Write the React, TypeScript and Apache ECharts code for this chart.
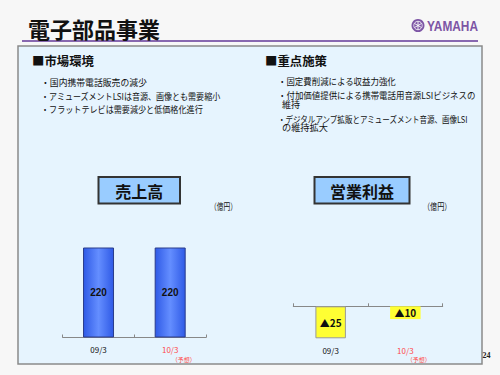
import React, { useEffect, useRef } from "react";
import * as echarts from "echarts";

// ---- data ----
const pageTitle = "電子部品事業";
const brandName = "YAMAHA";
const pageNumber = "24";
const marketHeading = "■市場環境";
const marketBullets = [
  "・国内携帯電話販売の減少",
  "・アミューズメントLSIは音源、画像とも需要縮小",
  "・フラットテレビは需要減少と低価格化進行",
];
const strategyHeading = "■重点施策";
const strategyLines = [
  "・固定費削減による収益力強化",
  "・付加価値提供による携帯電話用音源LSIビジネスの",
  "維持",
  "・デジタルアンプ拡販とアミューズメント音源、画像LSI",
  "の維持拡大",
];
const salesTitle = "売上高";
const profitTitle = "営業利益";
const unitLabel = "（億円）";
const categories = ["09/3", "10/3"];
const categoryNotes = ["", "（予想）"];
const salesValues = [220, 220];
const profitValues = [-25, -10];

const JP = "'Noto Sans CJK JP', sans-serif";

function measure(text: string, font: string): number {
  const c = document.createElement("canvas").getContext("2d");
  if (!c) return text.length * 9;
  c.font = font;
  return c.measureText(text).width;
}

function fitText(
  text: string,
  x: number,
  y: number,
  font: string,
  target: number | null,
  fill: string,
  z = 10
): any {
  const w = measure(text, font);
  const s = target ? target / w : 1;
  return {
    type: "text",
    x,
    y,
    scaleX: s,
    z,
    style: {
      text,
      font,
      fill,
      textAlign: "left",
      textVerticalAlign: "middle",
      align: "left",
      verticalAlign: "middle",
    },
  };
}

export default function App() {
  const ref = useRef<HTMLDivElement>(null);

  useEffect(() => {
    if (!ref.current) return;
    const chart = echarts.init(ref.current, undefined, { renderer: "svg" });

    const bulletFont = `9px ${JP}`;
    const leftTargets = [106, 180, 162];
    const rightTargets = [118, 198, null, 191, 46];
    const rightX = [278, 278, 282, 278, 282];
    const rightY = [81.7, 95.7, 104.5, 118.3, 127.5];
    const leftY = [82, 95.5, 108.5];

    const blueGrad = new echarts.graphic.LinearGradient(0, 0, 1, 0, [
      { offset: 0, color: "#2f5ae6" },
      { offset: 0.5, color: "#648eff" },
      { offset: 1, color: "#2f5ae6" },
    ]);

    const graphics: any[] = [
      {
        type: "rect",
        z: 0,
        shape: { x: 18, y: 46, width: 464, height: 318 },
        style: { fill: "#e6f4fe", stroke: "#8a8a8a", lineWidth: 1.5 },
      },
      {
        type: "line",
        z: 1,
        shape: { x1: 22, y1: 41, x2: 478, y2: 41 },
        style: { stroke: "#8868b0", lineWidth: 2 },
      },
      fitText(pageTitle, 28, 28, `bold 22px ${JP}`, 132, "#111"),
      {
        type: "circle",
        z: 10,
        shape: { cx: 418, cy: 25.5, r: 6.5 },
        style: { fill: "#7d55a5" },
      },
      {
        type: "circle",
        z: 11,
        shape: { cx: 418, cy: 25.5, r: 4.2 },
        style: { fill: "none", stroke: "#fff", lineWidth: 0.8 },
      },
      {
        type: "line",
        z: 11,
        shape: { x1: 418, y1: 21.5, x2: 418, y2: 29.5 },
        style: { stroke: "#fff", lineWidth: 0.9 },
      },
      {
        type: "line",
        z: 11,
        shape: { x1: 414.5, y1: 23.5, x2: 421.5, y2: 27.5 },
        style: { stroke: "#fff", lineWidth: 0.9 },
      },
      {
        type: "line",
        z: 11,
        shape: { x1: 414.5, y1: 27.5, x2: 421.5, y2: 23.5 },
        style: { stroke: "#fff", lineWidth: 0.9 },
      },
      fitText(brandName, 427, 26, `bold 14px 'Liberation Sans', Arial, sans-serif`, 51, "#7d55a5"),
      fitText(marketHeading, 32, 61, `bold 12px ${JP}`, 62, "#111"),
      fitText(strategyHeading, 265, 61, `bold 12px ${JP}`, 62, "#111"),
      {
        type: "rect",
        z: 10,
        shape: { x: 98.5, y: 177, width: 81.5, height: 26.5 },
        style: { fill: "#99ccff", stroke: "#333", lineWidth: 2 },
      },
      {
        type: "text",
        z: 11,
        x: 139.2,
        y: 190.5,
        style: {
          text: salesTitle,
          font: `bold 16px ${JP}`,
          fill: "#111",
          textAlign: "center",
          textVerticalAlign: "middle",
          align: "center",
          verticalAlign: "middle",
        },
      },
      {
        type: "rect",
        z: 10,
        shape: { x: 314.5, y: 177, width: 95, height: 26.5 },
        style: { fill: "#99ccff", stroke: "#333", lineWidth: 2 },
      },
      {
        type: "text",
        z: 11,
        x: 362,
        y: 190.5,
        style: {
          text: profitTitle,
          font: `bold 16px ${JP}`,
          fill: "#111",
          textAlign: "center",
          textVerticalAlign: "middle",
          align: "center",
          verticalAlign: "middle",
        },
      },
      fitText(unitLabel, 210, 206, `9px ${JP}`, 27, "#111"),
      fitText(unitLabel, 423, 206, `9px ${JP}`, 28.5, "#111"),
      fitText(pageNumber, 482.5, 355, `bold 8px 'Liberation Serif', serif`, null, "#222"),
    ];

    marketBullets.forEach((t, i) => {
      graphics.push(fitText(t, 41, leftY[i], bulletFont, leftTargets[i], "#111"));
    });
    strategyLines.forEach((t, i) => {
      graphics.push(fitText(t, rightX[i], rightY[i], bulletFont, rightTargets[i], "#111"));
    });

    const axisLabel = (margin: number) => ({
      margin,
      interval: 0,
      formatter: (v: string, i: number) =>
        categoryNotes[i] ? `{r|${v}}\n{n|${categoryNotes[i]}}` : `{k|${v}}`,
      rich: {
        k: { fontSize: 8, color: "#111", lineHeight: 10, fontFamily: JP, align: "center" },
        r: { fontSize: 8, color: "#ff4a4a", lineHeight: 10, fontFamily: JP, align: "center" },
        n: {
          fontSize: 6,
          color: "#ff4a4a",
          lineHeight: 9,
          fontFamily: JP,
          padding: [0, 0, 0, 27],
          align: "center",
        },
      },
    });

    const xAxisCommon = {
      type: "category" as const,
      data: categories,
      boundaryGap: true,
      axisLine: { show: true, onZero: true, lineStyle: { color: "#888", width: 1 } },
      axisTick: { show: true, inside: true, length: 3, lineStyle: { color: "#888" } },
      splitLine: { show: false },
    };

    chart.setOption({
      animation: false,
      backgroundColor: "#f7f7f7",
      graphic: { elements: graphics },
      grid: [
        {
          left: 62.7,
          width: 143.3,
          top: 247.5,
          height: 90,
          containLabel: false,
          outerBoundsMode: "none",
        },
        {
          left: 293.3,
          width: 149.4,
          top: 306.3,
          height: 32,
          containLabel: false,
          outerBoundsMode: "none",
        },
      ],
      xAxis: [
        { ...xAxisCommon, gridIndex: 0, axisLabel: axisLabel(7) },
        { ...xAxisCommon, gridIndex: 1, axisLabel: axisLabel(7) },
      ],
      yAxis: [
        { type: "value", gridIndex: 0, min: 0, max: 220, show: false },
        { type: "value", gridIndex: 1, min: -25, max: 0, show: false },
      ],
      series: [
        {
          type: "bar",
          xAxisIndex: 0,
          yAxisIndex: 0,
          data: salesValues,
          barWidth: 31,
          itemStyle: { color: blueGrad, borderColor: "#2a3c8c", borderWidth: 1 },
          label: {
            show: true,
            position: "inside",
            color: "#111",
            fontSize: 10,
            fontWeight: "bold",
            fontFamily: "'Liberation Sans', Arial, sans-serif",
          },
        },
        {
          type: "bar",
          xAxisIndex: 1,
          yAxisIndex: 1,
          data: profitValues.map((v, i) => ({
            value: v,
            itemStyle:
              i === 0
                ? { color: "#ffff33", borderColor: "#999", borderWidth: 1 }
                : { color: "#ffff33", borderWidth: 0 },
          })),
          barWidth: 30.5,
          label: {
            show: true,
            position: "inside",
            color: "#111",
            fontSize: 10,
            fontWeight: "bold",
            fontFamily: JP,
            formatter: (p: any) => (p.value < 0 ? `▲${Math.abs(p.value)}` : `${p.value}`),
          },
        },
      ],
    });

    return () => chart.dispose();
  }, []);

  return (
    <div
      ref={ref}
      style={{ position: "absolute", left: 0, top: 0, width: 500, height: 375 }}
    />
  );
}
